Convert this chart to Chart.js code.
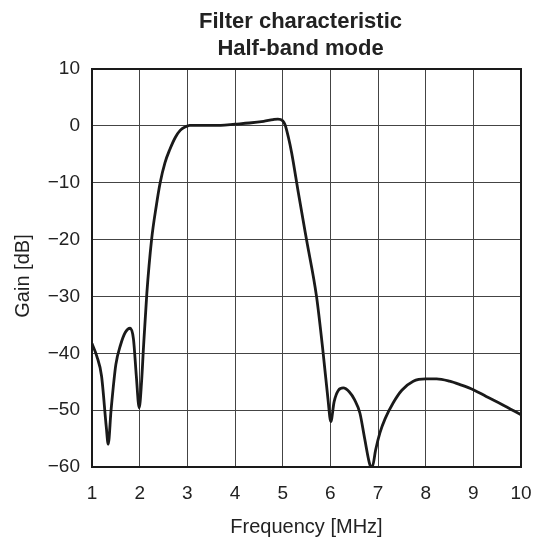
<!DOCTYPE html>
<html>
<head>
<meta charset="utf-8">
<script src="https://cdn.jsdelivr.net/npm/chart.js@4/dist/chart.umd.min.js"></script>
<style>
  html, body { margin: 0; padding: 0; background: #fff; }
  #wrap { width: 537px; height: 539px; }
</style>
</head>
<body>
<div id="wrap"><canvas id="chart-filter"></canvas></div>
<script>
// 読み取った値 (周波数 MHz / ゲイン dB)
const freq = [1.0, 1.1, 1.2, 1.3, 1.34, 1.4, 1.5, 1.6, 1.7, 1.8, 1.87, 1.93, 1.99, 2.04, 2.08, 2.15, 2.25, 2.35, 2.43, 2.53, 2.63, 2.75, 2.85, 2.95, 3.05, 3.3, 3.7, 4.0, 4.3, 4.6, 4.8, 4.9, 5.0, 5.05, 5.12, 5.19, 5.33, 5.5, 5.71, 5.85, 5.95, 6.01, 6.08, 6.17, 6.27, 6.4, 6.51, 6.62, 6.72, 6.83, 6.88, 6.95, 7.04, 7.15, 7.32, 7.5, 7.74, 8.0, 8.23, 8.5, 8.72, 9.0, 9.27, 9.6, 10.0];
const gain = [-38.3, -40.5, -44, -53, -56, -50, -42, -38.5, -36.3, -35.6, -37.5, -44, -49.6, -45, -39, -29.5, -20, -14, -10, -6.5, -4.2, -2, -0.8, -0.2, 0.1, 0.1, 0.1, 0.3, 0.5, 0.8, 1.1, 1.2, 0.9, 0.2, -2, -4.8, -11.8, -20, -30, -40, -48, -52, -48.5, -46.5, -46.1, -46.8, -48.2, -50.5, -55, -59.6, -60, -57, -54, -51.5, -48.7, -46.5, -44.9, -44.5, -44.5, -44.9, -45.5, -46.4, -47.6, -49, -50.8];
const titleLines = ['Filter characteristic', 'Half-band mode'];
const yTitle = 'Gain [dB]';
const xTicks = [1, 2, 3, 4, 5, 6, 7, 8, 9, 10];
const yTicks = [10, 0, -10, -20, -30, -40, -50, -60];

const FONT = '"Liberation Sans", Arial, sans-serif';

// タイトル・縦軸ラベル・外枠を描く
const framePlugin = {
    id: 'frame',
    afterDraw(chart) {
        const ctx = chart.ctx;
        const a = chart.chartArea;
        ctx.save();
        ctx.strokeStyle = '#1a1a1a';
        ctx.lineWidth = 2;
        ctx.strokeRect(a.left, a.top, a.right - a.left, a.bottom - a.top);
        ctx.fillStyle = '#222';
        ctx.font = 'bold 22px ' + FONT;
        ctx.textAlign = 'center';
        ctx.textBaseline = 'alphabetic';
        const cx = (a.left + a.right) / 2 - 6;
        ctx.fillText(titleLines[0], cx, 28);
        ctx.fillText(titleLines[1], cx, 55);

        // 縦軸タイトル (少し下寄せ)
        ctx.font = '20px ' + FONT;
        ctx.textBaseline = 'middle';
        ctx.translate(23, 276);
        ctx.rotate(-Math.PI / 2);
        ctx.fillText(yTitle, 0, 0);
        ctx.restore();
    }
};

const points = freq.map((f, i) => ({ x: f, y: gain[i] }));

const data = {
    datasets: [{
        data: points,
        borderColor: '#1a1a1a',
        borderWidth: 2.8,
        pointRadius: 0,
        fill: false,
        cubicInterpolationMode: 'monotone'
    }]
};

const options = {
    responsive: false,
    animation: false,
    layout: {
        padding: { top: 69, right: 16, bottom: 0, left: 0 }
    },
    scales: {
        x: {
            type: 'linear',
            min: 1,
            max: 10,
            afterBuildTicks: (scale) => { scale.ticks = xTicks.map(v => ({ value: v })); },
            afterFit: (scale) => {
                scale.height = 539 - 467;
                scale.paddingLeft = 0;
                scale.paddingRight = 0;
            },
            grid: { color: '#444', lineWidth: 1, drawTicks: false },
            border: { display: false },
            ticks: {
                color: '#222',
                font: { family: FONT, size: 19 },
                padding: 15,
                maxRotation: 0
            },
            title: {
                display: true,
                text: 'Frequency [MHz]',
                color: '#222',
                font: { family: FONT, size: 20 },
                padding: { top: 2, bottom: 0 }
            }
        },
        y: {
            min: -60,
            max: 10,
            afterBuildTicks: (scale) => { scale.ticks = yTicks.map(v => ({ value: v })); },
            afterFit: (scale) => { scale.width = 92; },
            grid: { color: '#444', lineWidth: 1, drawTicks: false },
            border: { display: false },
            ticks: {
                color: '#222',
                font: { family: FONT, size: 19 },
                padding: 12,
                callback: (v) => v < 0 ? '\u2212' + Math.abs(v) : String(v)
            },
            title: { display: false }
        }
    },
    plugins: {
        legend: { display: false },
        title: { display: false },
        tooltip: { enabled: false }
    }
};

const canvas = document.getElementById('chart-filter');
canvas.width = 537;
canvas.height = 539;
const chart = new Chart(canvas.getContext('2d'), {
    type: 'line',
    data: data,
    options: options,
    plugins: [framePlugin]
});
</script>
</body>
</html>
